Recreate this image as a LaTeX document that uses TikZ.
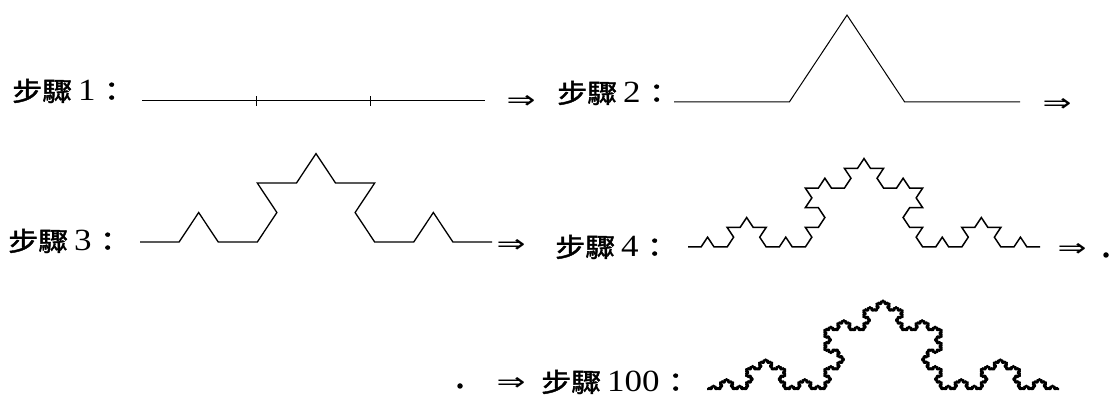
\documentclass[tikz,border=0pt]{standalone}
\usepackage{fontspec}
\setmainfont{Liberation Serif}
\newfontfamily\cjk{Noto Sans CJK TC}[FakeBold=1.6]
\newfontfamily\dv{DejaVu Sans}
\tikzset{
  lbl/.style={anchor=base west, inner sep=0pt, font=\fontsize{30}{30}\selectfont},
  arr/.style={anchor=center, inner sep=0pt},
  dotn/.style={circle, fill=black, inner sep=0pt, minimum size=5.5pt},
  kline/.style={line width=1pt, line join=miter},
}
\newcommand\bz[1]{\scalebox{1}[0.88]{{\cjk 步驟}\hspace{6pt}{\fontsize{35}{35}\selectfont #1}\hspace{1pt}{\cjk ：}}}
\newcommand\ra{\resizebox{29pt}{13pt}{\dv ⇒}}
\newcommand\kochcurve[5]{%
  \begin{scope}[shift={(#2,403-#3)}, yscale=0.87]
  \pgfmathsetmacro\ks{#4/3^#1}%
  \pgfmathtruncatemacro\kn{4^#1-1}%
  \draw[#5] (0,0) \foreach \k [evaluate=\k as \a using {60*((mod(\k,4)==1)-(mod(\k,4)==2)+(mod(floor(\k/4),4)==1)-(mod(floor(\k/4),4)==2)+(mod(floor(\k/16),4)==1)-(mod(floor(\k/16),4)==2)+(mod(floor(\k/64),4)==1)-(mod(floor(\k/64),4)==2)+(mod(floor(\k/256),4)==1)-(mod(floor(\k/256),4)==2))}] in {0,...,\kn}{ -- ++(\a:\ks pt) };
  \end{scope}}
\begin{document}
\begin{tikzpicture}[x=1pt,y=1pt]
\useasboundingbox (0,0) rectangle (1112,403);
% row 1
\node[lbl] (s1) at (12,302) {\bz{1}};
\coordinate (l1s) at (142,302);
\coordinate (l1e) at (485,302);
\draw[kline] (l1s) -- (l1e);
\draw[line width=1.2pt] (256.3,297) -- (256.3,307);
\draw[line width=1.2pt] (370.7,297) -- (370.7,307);
\node[arr] (a1) at (521,301) {\ra};
\node[lbl] (s2) at (557,300) {\bz{2}};
\kochcurve{1}{674}{102}{346}{kline}
\node[arr] (a2) at (1057,298) {\ra};
% row 2
\node[lbl] (s3) at (8,152) {\bz{3}};
\kochcurve{2}{140}{242}{352}{kline, line width=1.3pt}
\node[arr] (a3) at (511,157) {\ra};
\node[lbl] (s4) at (555,146) {\bz{4}};
\kochcurve{3}{688}{247}{352}{kline, line width=1.5pt}
\node[arr] (a4) at (1072,153) {\ra};
\node[dotn] (d1) at (1106,148) {};
% row 3
\node[dotn] (d2) at (460,17) {};
\node[arr] (a5) at (511,19) {\ra};
\node[lbl] (s5) at (541,11) {\bz{100}};
\kochcurve{5}{707}{389}{352}{line width=2.3pt, line join=round}
\end{tikzpicture}
\end{document}
